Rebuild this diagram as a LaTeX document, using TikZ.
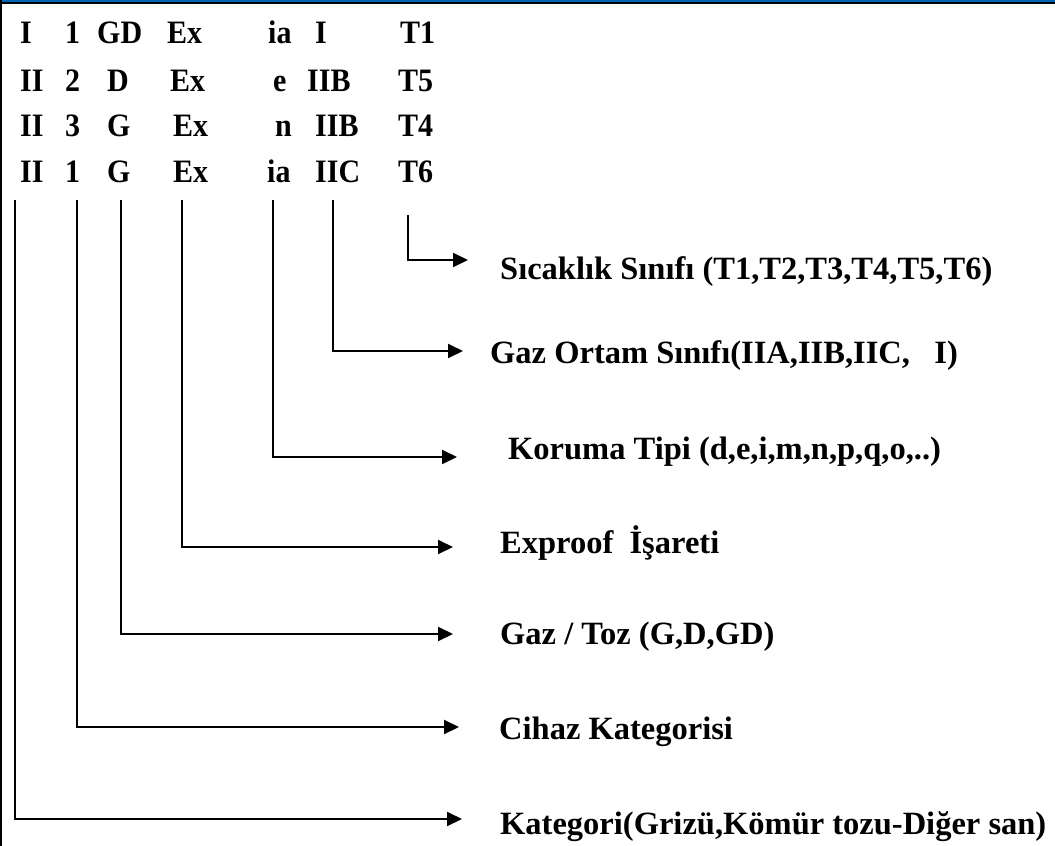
\documentclass[tikz,border=0pt]{standalone}
\usepackage{fontspec}
\setmainfont{Liberation Serif}
\usetikzlibrary{arrows.meta}
\definecolor{topblue}{RGB}{0,102,180}
\newcommand{\tallbox}[1]{\scalebox{1}[1.09]{#1}}
\begin{document}
\begin{tikzpicture}[x=1pt,y=-1pt,
  tok/.style={anchor=base west,inner sep=0pt,font=\fontsize{30}{36}\selectfont\bfseries},
  lab/.style={anchor=base west,inner sep=0pt,font=\fontsize{32.5}{38}\selectfont\bfseries},
  conn/.style={line width=2pt,-{Triangle[length=15pt,width=14pt]}}]
\useasboundingbox (0,0) rectangle (1055,846);
\fill[white] (0,0) rectangle (1055,846);
% frame
\fill[topblue] (0,0) rectangle (1055,2.2);
\fill[black] (0,2.2) rectangle (1055,4);
\fill[black] (0,0) rectangle (2,846);
% rows
\node[tok] (r1c1) at (20,43) {\tallbox{I}};
\node[tok] (r1c2) at (65,43) {\tallbox{1}};
\node[tok] (r1c3) at (97,43) {\tallbox{GD}};
\node[tok] (r1c4) at (167,43) {\tallbox{Ex}};
\node[tok] (r1c5) at (268,43) {\tallbox{ia}};
\node[tok] (r1c6) at (315,43) {\tallbox{I}};
\node[tok] (r1c7) at (400,43) {\tallbox{T1}};
\node[tok] (r2c1) at (20,91) {\tallbox{II}};
\node[tok] (r2c2) at (65,91) {\tallbox{2}};
\node[tok] (r2c3) at (107,91) {\tallbox{D}};
\node[tok] (r2c4) at (170,91) {\tallbox{Ex}};
\node[tok] (r2c5) at (273,91) {\tallbox{e}};
\node[tok] (r2c6) at (307,91) {\tallbox{IIB}};
\node[tok] (r2c7) at (398,91) {\tallbox{T5}};
\node[tok] (r3c1) at (20,136) {\tallbox{II}};
\node[tok] (r3c2) at (65,136) {\tallbox{3}};
\node[tok] (r3c3) at (107,136) {\tallbox{G}};
\node[tok] (r3c4) at (173,136) {\tallbox{Ex}};
\node[tok] (r3c5) at (275,136) {\tallbox{n}};
\node[tok] (r3c6) at (315,136) {\tallbox{IIB}};
\node[tok] (r3c7) at (398,136) {\tallbox{T4}};
\node[tok] (r4c1) at (20,182) {\tallbox{II}};
\node[tok] (r4c2) at (65,182) {\tallbox{1}};
\node[tok] (r4c3) at (107,182) {\tallbox{G}};
\node[tok] (r4c4) at (173,182) {\tallbox{Ex}};
\node[tok] (r4c5) at (267,182) {\tallbox{ia}};
\node[tok] (r4c6) at (315,182) {\tallbox{IIC}};
\node[tok] (r4c7) at (398,182) {\tallbox{T6}};
% connector start points
\coordinate (s1) at (15,200);
\coordinate (s2) at (77,200);
\coordinate (s3) at (121,200);
\coordinate (s4) at (182,200);
\coordinate (s5) at (273,200);
\coordinate (s6) at (333,200);
\coordinate (s7) at (408,215);
% arrow ends
\coordinate (e7) at (468,260);
\coordinate (e6) at (463,351);
\coordinate (e5) at (457,457);
\coordinate (e4) at (453,547);
\coordinate (e3) at (453,634);
\coordinate (e2) at (459,727);
\coordinate (e1) at (462,819);
% labels
\node[lab] (l7) at (500,279) {Sıcaklık Sınıfı (T1,T2,T3,T4,T5,T6)};
\node[lab] (l6) at (490,363) {Gaz Ortam Sınıfı(IIA,IIB,IIC,\ \ \ I)};
\node[lab] (l5) at (508,459) {Koruma Tipi (d,e,i,m,n,p,q,o,..)};
\node[lab] (l4) at (500,553) {Exproof\ \ İşareti};
\node[lab] (l3) at (500,644) {Gaz / Toz (G,D,GD)};
\node[lab] (l2) at (499,739) {Cihaz Kategorisi};
\node[lab] (l1) at (500,834) {Kategori(Grizü,Kömür tozu-Diğer san)};
% connectors
\draw[conn] (s7) |- (e7);
\draw[conn] (s6) |- (e6);
\draw[conn] (s5) |- (e5);
\draw[conn] (s4) |- (e4);
\draw[conn] (s3) |- (e3);
\draw[conn] (s2) |- (e2);
\draw[conn] (s1) |- (e1);
\end{tikzpicture}
\end{document}
